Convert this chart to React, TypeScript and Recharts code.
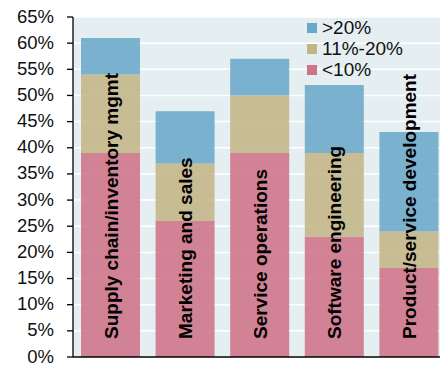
import React from "react";
import {
  BarChart,
  Bar,
  XAxis,
  YAxis,
  CartesianGrid,
  LabelList,
} from "recharts";

const categories = [
  "Supply chain/inventory mgmt",
  "Marketing and sales",
  "Service operations",
  "Software engineering",
  "Product/service development",
];
const under10 = [39, 26, 39, 23, 17];
const from11to20 = [15, 11, 11, 16, 7];
const over20 = [7, 10, 7, 13, 19];
const yTicks = [0, 5, 10, 15, 20, 25, 30, 35, 40, 45, 50, 55, 60, 65];

const seriesNames = { over20: ">20%", mid: "11%-20%", under10: "<10%" };
const COLORS = { over20: "#6aa8c8", mid: "#c3b585", under10: "#cf7388" };

const data = categories.map((name, i) => ({
  name,
  under10: under10[i],
  mid: from11to20[i],
  over20: over20[i],
}));

const FONT = "'Liberation Sans', Arial, sans-serif";
const CHART_W = 446;
const CHART_H = 365;
const Y_W = 73;
const BAND = (CHART_W - Y_W) / categories.length;

// x-axis ticks sit on the category boundaries, not the centres
const BoundaryTick = (props: any) => {
  const { x, y } = props;
  const bx = x - BAND / 2;
  return <line x1={bx} x2={bx} y1={y} y2={y + 6} stroke="#000" strokeWidth={1.3} />;
};

// category name written upward inside the bar, from its foot
const BarName = (props: any) => {
  const { x, width, index } = props;
  const tx = x + width / 2 + 7;
  const ty = 339;
  return (
    <text
      x={tx}
      y={ty}
      transform={`rotate(-90, ${tx}, ${ty})`}
      fill="#000"
      fontFamily={FONT}
      fontSize={19}
      fontWeight="bold"
      textAnchor="start"
    >
      {categories[index]}
    </text>
  );
};

export default function App() {
  return (
    <div
      style={{
        position: "absolute",
        left: 0,
        top: 0,
        width: 440,
        height: 365,
        overflow: "hidden",
        background: "#fff",
      }}
    >
      <BarChart
        width={CHART_W}
        height={CHART_H}
        data={data}
        margin={{ top: 17, right: 0, bottom: 0, left: 0 }}
        barSize={59}
      >
        <CartesianGrid
          vertical={false}
          stroke="#fff"
          strokeWidth={1.5}
          fill="#e5eef1"
          fillOpacity={1}
        />
        <XAxis
          dataKey="name"
          height={8}
          axisLine={{ stroke: "#000", strokeWidth: 1.3 }}
          tickLine={false}
          tick={<BoundaryTick />}
          interval={0}
        />
        <YAxis
          width={Y_W}
          domain={[0, 65]}
          ticks={yTicks}
          interval={0}
          tickFormatter={(v) => `${v}%`}
          axisLine={{ stroke: "#000", strokeWidth: 1.3 }}
          tickLine={{ stroke: "#000", strokeWidth: 1.3 }}
          tickSize={6}
          tickMargin={13}
          tick={{ fill: "#111", fontSize: 18.5, fontFamily: FONT, dy: -1 }}
        />
        <Bar dataKey="under10" stackId="s" fill={COLORS.under10} fillOpacity={0.88} isAnimationActive={false}>
          <LabelList dataKey="under10" content={<BarName />} />
        </Bar>
        <Bar dataKey="mid" stackId="s" fill={COLORS.mid} fillOpacity={0.88} isAnimationActive={false} />
        <Bar dataKey="over20" stackId="s" fill={COLORS.over20} fillOpacity={0.88} isAnimationActive={false} />
      </BarChart>

      <div
        style={{
          position: "absolute",
          left: 307,
          top: 18,
          fontFamily: FONT,
          fontSize: 19,
          color: "#111",
          lineHeight: "20.8px",
        }}
      >
        {(["over20", "mid", "under10"] as const).map((k) => (
          <div key={k} style={{ display: "flex", alignItems: "center", height: 20.8 }}>
            <span
              style={{
                display: "inline-block",
                width: 10,
                height: 10,
                background: COLORS[k],
                marginRight: 5,
              }}
            />
            {seriesNames[k]}
          </div>
        ))}
      </div>
    </div>
  );
}
